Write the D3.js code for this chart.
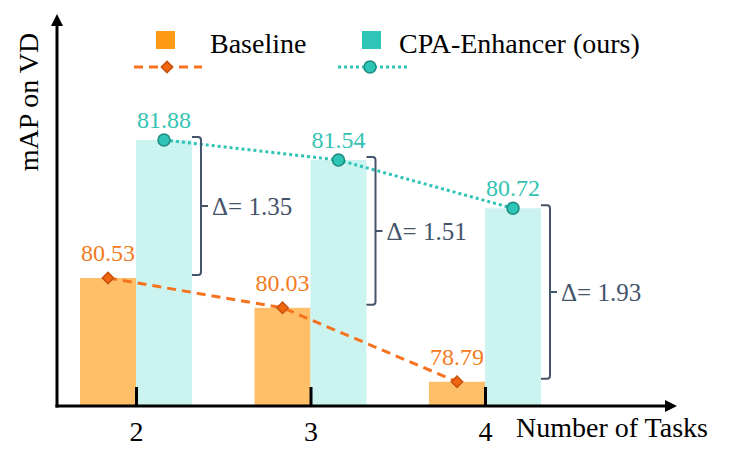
<!DOCTYPE html>
<html>
<head>
<meta charset="utf-8">
<script src="https://cdn.jsdelivr.net/npm/d3@7"></script>
<style>
  body { margin: 0; background: #fff; }
</style>
</head>
<body>
<div id="chart"></div>
<script>
// data
var tasks = ["2", "3", "4"];
var baseline = [80.53, 80.03, 78.79];
var ours = [81.88, 81.54, 80.72];
var seriesNames = ["Baseline", "CPA-Enhancer (ours)"];

var width = 733, height = 466;
var serif = "'Liberation Serif', 'Times New Roman', Times, 'DejaVu Serif', serif";

var svg = d3.select("#chart")
    .append("svg")
    .attr("width", width)
    .attr("height", height)
    .style("font-family", serif);

// axis corner
var x0 = 57, yAxis = 406;

// category centres
var x = d3.scalePoint().domain(tasks).range([136, 485]);
// two bars per task, one each side of the tick
var sub = d3.scaleBand().domain(seriesNames).range([-56, 56]);

// the figure is schematic: each series has its own vertical scale
var yBase = d3.scaleLinear().domain([78.4, 80.53]).range([405, 278]);
var yOurs = d3.scaleLinear().domain([77.38, 81.88]).range([405, 140]);

var col = {
    baseBar: "#ffbf69", oursBar: "#cbf3ef",
    baseKey: "#ff9a14", oursKey: "#2ec4b6",
    baseLine: "#f5731e", oursLine: "#2ec4b6",
    baseText: "#f47a20", oursText: "#33c3b3",
    brace: "#44546a"
};

// bars
svg.append("g").selectAll("rect")
    .data(baseline)
    .enter().append("rect")
    .attr("x", (d, i) => x(tasks[i]) + sub(seriesNames[0]))
    .attr("y", d => yBase(d))
    .attr("width", sub.bandwidth())
    .attr("height", d => yBase.range()[0] - yBase(d))
    .attr("fill", col.baseBar);

svg.append("g").selectAll("rect")
    .data(ours)
    .enter().append("rect")
    .attr("x", (d, i) => x(tasks[i]) + sub(seriesNames[1]))
    .attr("y", d => yOurs(d))
    .attr("width", sub.bandwidth())
    .attr("height", d => yOurs.range()[0] - yOurs(d))
    .attr("fill", col.oursBar);

// axes with arrow heads
svg.append("line")
    .attr("x1", x0).attr("y1", yAxis + 1.5).attr("x2", x0).attr("y2", 22)
    .attr("stroke", "#000").attr("stroke-width", 3);
svg.append("path")
    .attr("d", "M" + x0 + ",14 L" + (x0 - 6) + ",26 L" + (x0 + 6) + ",26 Z")
    .attr("fill", "#000");
svg.append("line")
    .attr("x1", x0 - 1.5).attr("y1", yAxis).attr("x2", 668).attr("y2", yAxis)
    .attr("stroke", "#000").attr("stroke-width", 3);
svg.append("path")
    .attr("d", "M677," + yAxis + " L665," + (yAxis - 6) + " L665," + (yAxis + 6) + " Z")
    .attr("fill", "#000");

var xAxis = svg.append("g")
    .attr("transform", "translate(0," + yAxis + ")")
    .call(d3.axisBottom(x).tickSizeInner(-19).tickSizeOuter(0).tickPadding(15));
xAxis.attr("font-family", null).attr("font-size", null);
xAxis.select(".domain").remove();
xAxis.selectAll(".tick line").attr("stroke", "#000").attr("stroke-width", 3);
xAxis.selectAll(".tick text")
    .attr("fill", "#000")
    .style("font-family", serif)
    .style("font-size", "28px");

svg.append("text")
    .attr("x", 516).attr("y", 437)
    .style("font-family", serif)
    .attr("font-size", 28)
    .text("Number of Tasks");

svg.append("text")
    .attr("transform", "translate(38,102) rotate(-90)")
    .attr("text-anchor", "middle")
    .style("font-family", serif)
    .attr("font-size", 28)
    .text("mAP on VD");

// marker positions
var basePts = baseline.map((d, i) => [x(tasks[i]) - sub.bandwidth() / 2, yBase(d)]);
var oursPts = ours.map((d, i) => [x(tasks[i]) + sub.bandwidth() / 2, yOurs(d)]);

// lines
svg.append("path")
    .attr("d", d3.line()(basePts))
    .attr("fill", "none")
    .attr("stroke", col.baseLine)
    .attr("stroke-width", 3)
    .attr("stroke-dasharray", "9,6");
svg.append("path")
    .attr("d", d3.line()(oursPts))
    .attr("fill", "none")
    .attr("stroke", col.oursLine)
    .attr("stroke-width", 3)
    .attr("stroke-dasharray", "3,3");

var diamond = d3.symbol().type(d3.symbolSquare).size(64);

svg.append("g").selectAll("path")
    .data(basePts)
    .enter().append("path")
    .attr("d", diamond)
    .attr("transform", d => "translate(" + d[0] + "," + d[1] + ") rotate(45)")
    .attr("fill", "#f0660f")
    .attr("stroke", "#c8510f")
    .attr("stroke-width", 1.5);

svg.append("g").selectAll("circle")
    .data(oursPts)
    .enter().append("circle")
    .attr("cx", d => d[0]).attr("cy", d => d[1])
    .attr("r", 6)
    .attr("fill", "#2ec4b6")
    .attr("stroke", "#1d8a7f")
    .attr("stroke-width", 1.5);

// value labels
svg.append("g").selectAll("text")
    .data(baseline)
    .enter().append("text")
    .attr("x", (d, i) => basePts[i][0])
    .attr("y", (d, i) => basePts[i][1] - 17)
    .attr("text-anchor", "middle")
    .style("font-family", serif)
    .attr("font-size", 24)
    .attr("fill", col.baseText)
    .text(d => d.toFixed(2));

svg.append("g").selectAll("text")
    .data(ours)
    .enter().append("text")
    .attr("x", (d, i) => oursPts[i][0])
    .attr("y", (d, i) => oursPts[i][1] - 12)
    .attr("text-anchor", "middle")
    .style("font-family", serif)
    .attr("font-size", 24)
    .attr("fill", col.oursText)
    .text(d => d.toFixed(2));

// braces showing the gain
tasks.forEach(function (t, i) {
    var bx = x(t) + sub.bandwidth() + 9;
    var top = yOurs(ours[i]) - 3;
    var bot = yBase(baseline[i]) - 3;
    var mid = (top + bot) / 2;
    var p = d3.path();
    p.moveTo(bx - 9, top);
    p.lineTo(bx - 3, top);
    p.quadraticCurveTo(bx, top, bx, top + 3);
    p.lineTo(bx, bot - 3);
    p.quadraticCurveTo(bx, bot, bx - 3, bot);
    p.lineTo(bx - 9, bot);
    p.moveTo(bx, mid);
    p.lineTo(bx + 7, mid);
    svg.append("path")
        .attr("d", p.toString())
        .attr("fill", "none")
        .attr("stroke", col.brace)
        .attr("stroke-width", 2);
    svg.append("text")
        .attr("x", bx + 11)
        .attr("y", mid + 9)
        .style("font-family", serif)
        .attr("font-size", 25)
        .attr("fill", col.brace)
        .text("\u0394= " + (ours[i] - baseline[i]).toFixed(2));
});

// legend
var legend = svg.append("g").style("font-family", serif);
legend.append("rect").attr("x", 156).attr("y", 31).attr("width", 19).attr("height", 18).attr("fill", col.baseKey);
legend.append("text").attr("x", 210).attr("y", 53).attr("font-size", 28).text(seriesNames[0]);
legend.append("line").attr("x1", 134).attr("x2", 202).attr("y1", 67).attr("y2", 67)
    .attr("stroke", col.baseLine).attr("stroke-width", 3).attr("stroke-dasharray", "9,6");
legend.append("path").attr("d", diamond).attr("transform", "translate(167,67) rotate(45)")
    .attr("fill", "#f0660f").attr("stroke", "#c8510f").attr("stroke-width", 1.5);

legend.append("rect").attr("x", 362).attr("y", 31).attr("width", 19).attr("height", 18).attr("fill", col.oursKey);
legend.append("text").attr("x", 399).attr("y", 53).attr("font-size", 28).text(seriesNames[1]);
legend.append("line").attr("x1", 338).attr("x2", 408).attr("y1", 67).attr("y2", 67)
    .attr("stroke", col.oursLine).attr("stroke-width", 3).attr("stroke-dasharray", "3,3");
legend.append("circle").attr("cx", 370).attr("cy", 67).attr("r", 6)
    .attr("fill", "#2ec4b6").attr("stroke", "#1d8a7f").attr("stroke-width", 1.5);
</script>
</body>
</html>
